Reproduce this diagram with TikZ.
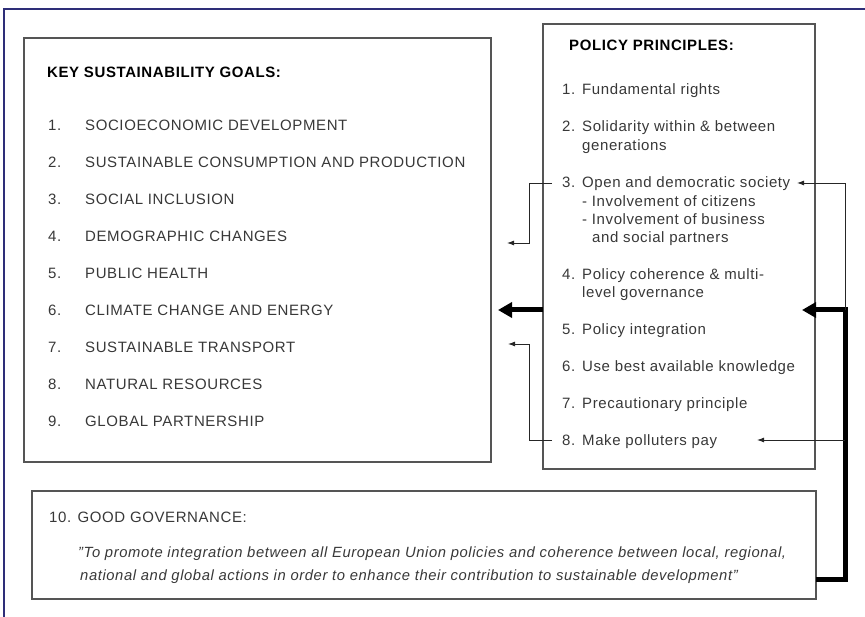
\documentclass[tikz,border=0pt]{standalone}
\usepackage{fontspec}
\setmainfont{Liberation Sans}[LetterSpace=4]
\usetikzlibrary{arrows.meta}
\definecolor{framenavy}{HTML}{2E2E78}
\definecolor{boxgray}{HTML}{555555}
\definecolor{txtgray}{HTML}{383838}
\tikzset{
  panel/.style={draw=boxgray, line width=1.3pt, inner sep=0pt},
  headtext/.style={anchor=base west, inner sep=0pt, font=\fontsize{15}{18}\selectfont\bfseries},
  itemtext/.style={anchor=base west, inner sep=0pt, text=txtgray, font=\fontsize{15}{18}\selectfont},
  quotetext/.style={anchor=base west, inner sep=0pt, text=txtgray, font=\fontsize{14.8}{18}\selectfont\itshape},
  thinlink/.style={draw=black!85, line width=0.9pt, -{Latex[length=7pt,width=5pt]}},
  thicklink/.style={draw=black, line width=5pt, -{Triangle[length=14pt,width=15pt]}}
}
\begin{document}
\begin{tikzpicture}[x=1pt, y=-1pt]
  \useasboundingbox (0,0) rectangle (865,617);
  % outer frame
  \draw[framenavy, line width=1.5pt] (865,9) -- (4,9) -- (4,617);

  % boxes
  \node[panel, minimum width=467pt, minimum height=424pt] (goals) at (257.5,250) {};
  \node[panel, minimum width=272pt, minimum height=445pt] (princ) at (679,246.5) {};
  \node[panel, minimum width=784pt, minimum height=108pt] (gov) at (424,545) {};

  % key sustainability goals
  \node[headtext] (gtitle) at (47,78) {KEY SUSTAINABILITY GOALS:};
  \node[itemtext] (g1n) at (48,131) {1.};
  \node[itemtext] (g1) at (85,131) {SOCIOECONOMIC DEVELOPMENT};
  \node[itemtext] (g2n) at (48,168) {2.};
  \node[itemtext] (g2) at (85,168) {SUSTAINABLE CONSUMPTION AND PRODUCTION};
  \node[itemtext] (g3n) at (48,205) {3.};
  \node[itemtext] (g3) at (85,205) {SOCIAL INCLUSION};
  \node[itemtext] (g4n) at (48,242) {4.};
  \node[itemtext] (g4) at (85,242) {DEMOGRAPHIC CHANGES};
  \node[itemtext] (g5n) at (48,279) {5.};
  \node[itemtext] (g5) at (85,279) {PUBLIC HEALTH};
  \node[itemtext] (g6n) at (48,316) {6.};
  \node[itemtext] (g6) at (85,316) {CLIMATE CHANGE AND ENERGY};
  \node[itemtext] (g7n) at (48,353) {7.};
  \node[itemtext] (g7) at (85,353) {SUSTAINABLE TRANSPORT};
  \node[itemtext] (g8n) at (48,390) {8.};
  \node[itemtext] (g8) at (85,390) {NATURAL RESOURCES};
  \node[itemtext] (g9n) at (48,427) {9.};
  \node[itemtext] (g9) at (85,427) {GLOBAL PARTNERSHIP};

  % policy principles
  \node[headtext] (ptitle) at (569,51) {POLICY PRINCIPLES:};
  \node[itemtext] (p1n) at (562,95) {1.};
  \node[itemtext] (p1) at (582,95) {Fundamental rights};
  \node[itemtext] (p2n) at (562,132) {2.};
  \node[itemtext] (p2) at (582,132) {Solidarity within \& between};
  \node[itemtext] (p2b) at (582,151) {generations};
  \node[itemtext] (p3n) at (562,188) {3.};
  \node[itemtext] (p3) at (582,188) {Open and democratic society};
  \node[itemtext] (p3a) at (582,207) {- Involvement of citizens};
  \node[itemtext] (p3b) at (582,225) {- Involvement of business};
  \node[itemtext] (p3c) at (592,243) {and social partners};
  \node[itemtext] (p4n) at (562,280) {4.};
  \node[itemtext] (p4) at (582,280) {Policy coherence \& multi-};
  \node[itemtext] (p4b) at (582,298) {level governance};
  \node[itemtext] (p5n) at (562,335) {5.};
  \node[itemtext] (p5) at (582,335) {Policy integration};
  \node[itemtext] (p6n) at (562,372) {6.};
  \node[itemtext] (p6) at (582,372) {Use best available knowledge};
  \node[itemtext] (p7n) at (562,409) {7.};
  \node[itemtext] (p7) at (582,409) {Precautionary principle};
  \node[itemtext] (p8n) at (562,446) {8.};
  \node[itemtext] (p8) at (582,446) {Make polluters pay};

  % good governance
  \node[itemtext] (govtitle) at (49,522) {10. GOOD GOVERNANCE:};
  \node[quotetext] (quote1) at (78,557) {"To promote integration between all European Union policies and coherence between local, regional,};
  \node[quotetext] (quote2) at (80,580) {national and global actions in order to enhance their contribution to sustainable development"};

  % connector points
  \coordinate (govout) at (816,579);
  \coordinate (rtrunk) at (845,310);
  \coordinate (rtip) at (802,310);
  \coordinate (rtop) at (845,183);
  \coordinate (r3tip) at (797,183);
  \coordinate (r8) at (845,440);
  \coordinate (r8tip) at (757,440);
  \coordinate (lout) at (543,310);
  \coordinate (ltip) at (498,310);
  \coordinate (l3) at (552,183);
  \coordinate (l3tip) at (507,243);
  \coordinate (l8) at (552,440);
  \coordinate (l8tip) at (508,344);

  % links
  \draw[thicklink] (govout) -| (rtrunk) -- (rtip);
  \draw[thinlink] (rtrunk) -- (rtop) -- (r3tip);
  \draw[thinlink] (r8) -- (r8tip);
  \draw[thicklink] (lout) -- (ltip);
  \draw[thinlink] (l3) -- (529,183) |- (l3tip);
  \draw[thinlink] (l8) -- (529,440) |- (l8tip);
\end{tikzpicture}
\end{document}
